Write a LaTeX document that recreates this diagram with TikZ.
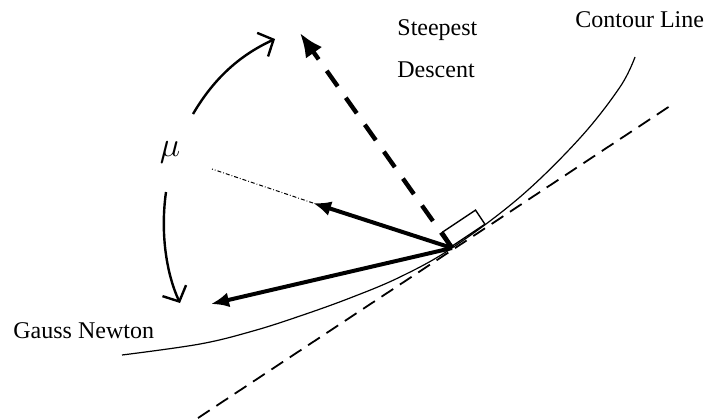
\documentclass[tikz,border=0pt]{standalone}
\usepackage{fontspec}
\setmainfont{Liberation Serif}
\usepackage{tikz}
\usetikzlibrary{arrows.meta,positioning}

\begin{document}
\begin{tikzpicture}[
  x=0.5pt,y=-0.5pt,
  label/.style={font=\fontsize{12pt}{14pt}\selectfont,anchor=base west,inner sep=0pt},
  contour/.style={line width=0.6pt},
  tangent/.style={line width=0.9pt,dash pattern=on 7pt off 4pt},
  search/.style={-{Latex[length=9pt,width=7.5pt]},line width=2pt},
  steepest/.style={-{Latex[length=12pt,width=10pt]},line width=2.2pt,dash pattern=on 9.5pt off 7pt},
  sweep/.style={-{Straight Barb[length=6pt,width=13pt]},line width=1.2pt},
  guide/.style={line width=0.5pt,dash pattern=on 2pt off 1pt on 0.4pt off 1pt}
]
\useasboundingbox (0,0) rectangle (705,418);
\coordinate (P) at (452,248);
\coordinate (sdtip) at (300,33);
\coordinate (mid) at (313,203);
\coordinate (midend) at (212,169);
\coordinate (gntip) at (211,304);
\coordinate (tanA) at (198,418);
\coordinate (tanB) at (670,106);
\draw[contour] plot[smooth,tension=0.6] coordinates {(122,355) (200,344) (253,331) (300,316) (350,298) (400,277) (452,248) (520,197) (580,138) (620,87) (635,57)};
\draw[tangent] (tanA) -- (tanB);
\node[draw,line width=0.7pt,rotate=33.7,minimum width=19.5pt,minimum height=8.5pt,inner sep=0pt] (trust) at (464,228) {};
\draw[steepest] (P) -- (sdtip);
\draw[search] (P) -- (mid);
\draw[guide] (mid) -- (midend);
\draw[search] (P) -- (gntip);
\node[font=\fontsize{16pt}{18pt}\selectfont] (mu) at (170,152) {$\mu$};
\coordinate (upS) at (193,114);
\coordinate (upE) at (275,39);
\coordinate (loS) at (166,192);
\coordinate (loE) at (180,303);
\draw[sweep] (upS) .. controls (213,80) and (238,56) .. (upE);
\draw[sweep] (loS) .. controls (160,235) and (167,275) .. (loE);
\node[label] (steep) at (397,35) {Steepest};
\node[label] (desc) at (397,77) {Descent};
\node[label] (cont) at (575,27) {Contour Line};
\node[label] (gauss) at (13,338) {Gauss Newton};
\end{tikzpicture}
\end{document}
